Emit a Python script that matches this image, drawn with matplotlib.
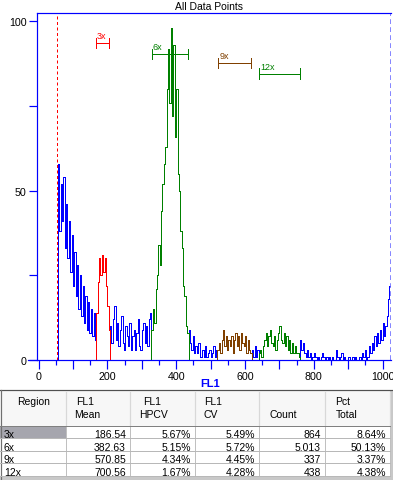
import matplotlib
matplotlib.use("Agg")
import matplotlib.pyplot as plt
import numpy as np

plt.rcParams['font.family'] = ['Liberation Sans', 'DejaVu Sans']

# ---------------- data (4-channel bins of FL1 histogram) ----------------
bin_width = 4
start_channel = 56

blue1 = [58, 38, 52, 41, 54, 33, 46, 30, 41, 26, 37, 22, 32, 19, 28, 15,
         25, 13, 22, 11, 19, 9, 17, 8, 15, 7, 14, 6]                       # 56-168
red_3x = [14, 23, 30, 25, 31, 26, 30, 22, 16, 9]                           # 168-208
blue2 = [10, 5, 12, 16, 6, 11, 4, 9, 13, 5, 3, 10, 7, 4, 11, 3, 7, 9, 3, 8,
         12, 4, 3, 9, 11, 5, 10, 4, 12, 14]                                # 208-328
green_6x = [9, 15, 11, 21, 25, 34, 28, 44, 52, 58, 63, 80, 92, 76, 98, 72,
            93, 66, 80, 55, 50, 38, 33, 22, 19, 10, 8]                     # 328-436
blue3 = [9, 5, 3, 7, 2, 4, 2, 5, 1, 1, 3, 1, 4, 1, 2, 3, 1, 2, 4, 1, 3]    # 436-520
brown_9x = [3, 5, 2, 6, 9, 4, 7, 3, 6, 4, 7, 2, 6, 8, 4, 7, 3, 8, 5, 4, 7,
            2, 6, 3, 2]                                                    # 520-620
blue4 = [3, 1, 4, 1, 3]                                                    # 620-640
green_12x = [2, 3, 1, 4, 6, 8, 4, 7, 9, 5, 4, 7, 3, 6, 8, 10, 6, 5, 8, 4, 7,
             3, 6, 2, 5, 2, 4, 2, 2, 1]                                    # 640-760
blue5 = [6, 3, 5, 2, 1, 3, 1, 2, 0, 1, 2, 1, 0, 1, 0, 1, 2, 1, 0, 1, 0, 1,
         0, 1, 0, 0, 3, 1, 0, 1, 2, 0, 1, 0, 0, 1, 0, 0, 1, 0, 1, 0, 0, 1,
         0, 2, 1, 3, 0, 1, 4, 2, 5, 3, 7, 4, 8, 5, 9, 6, 11, 7, 10, 13, 18,
         22]                                                               # 760-1024

segments = [blue1, red_3x, blue2, green_6x, blue3, brown_9x, blue4, green_12x, blue5]
counts = np.concatenate([np.array(s, dtype=float) for s in segments])
edges = start_channel + bin_width * np.arange(len(counts) + 1)

# regions: name, channel range, colour, marker position
region_names = ["3x", "6x", "9x", "12x"]
region_lo = [168, 328, 520, 640]
region_hi = [208, 436, 620, 760]
region_marker_lo = [166, 329, 522, 641]
region_marker_hi = [206, 435, 617, 760]
region_marker_y = [93.6, 90.5, 87.6, 84.6]
region_colors = ["#ff0000", "#008000", "#804000", "#008000"]

gate_left = 55
gate_right = 1023

x_ticks_major = np.arange(0, 1001, 100)
x_ticks_minor = np.arange(50, 1001, 100)
x_tick_labels = ["0", "", "200", "", "400", "", "600", "", "800", "", "1000"]
y_ticks_major = [0, 50, 100]
y_ticks_minor = [25, 75]

# table
tbl_header1 = ["Region", "FL1", "FL1", "FL1", "", "Pct"]
tbl_header2 = ["", "Mean", "HPCV", "CV", "Count", "Total"]
tbl_region = ["3x", "6x", "9x", "12x"]
tbl_mean = ["186.54", "382.63", "570.85", "700.56"]
tbl_hpcv = ["5.67%", "5.15%", "4.34%", "1.67%"]
tbl_cv = ["5.49%", "5.72%", "4.45%", "4.28%"]
tbl_count = ["864", "5.013", "337", "438"]
tbl_pct = ["8.64%", "50.13%", "3.37%", "4.38%"]

# ---------------- figure ----------------
W, H = 393, 481
fig = plt.figure(figsize=(W / 100, H / 100), dpi=100)
fig.patch.set_facecolor("white")

BLUE = "#0000ff"
PX = 0.72  # one pixel in points

# table axes (pixel coordinates)
tax = fig.add_axes([0, 0, 1, 1])
tax.set_xlim(0, W)
tax.set_ylim(H, 0)
tax.axis("off")

col_x = [0, 66, 130, 195, 259, 325, 390]
tbl_top, head_bot = 391, 426.7
row_bounds = [426.7, 439.3, 451.7, 464.3, 477]

tax.add_patch(plt.Rectangle((0, tbl_top), W, H - tbl_top, facecolor="#ffffff",
                            edgecolor="none"))
tax.add_patch(plt.Rectangle((0, tbl_top), 390, head_bot - tbl_top,
                            facecolor="#f7f7f7", edgecolor="none"))
tax.add_patch(plt.Rectangle((390, tbl_top), W - 390, H - tbl_top,
                            facecolor="#c8c8c8", edgecolor="none"))
tax.add_patch(plt.Rectangle((0, row_bounds[0]), 66, row_bounds[1] - row_bounds[0],
                            facecolor="#a6a6ae", edgecolor="none"))
tax.add_patch(plt.Rectangle((0, 477), W, 4, facecolor="#c8c8c8", edgecolor="none"))
# borders
tax.plot([0, W], [tbl_top, tbl_top], color="#505050", lw=1.2 * PX)
tax.plot([0.5, 0.5], [tbl_top, H], color="#707070", lw=1.2 * PX)
for x in col_x[1:]:
    tax.plot([x, x], [tbl_top + 2, head_bot], color="#d8d8d8", lw=1.2 * PX)
    tax.plot([x, x], [head_bot, 477], color="#c0c0c0", lw=PX)
for y in row_bounds:
    tax.plot([0, 390], [y, y], color="#b8b8b8", lw=PX)
tax.plot([0, 390], [head_bot, head_bot], color="#808080", lw=PX)

hdr_x1 = [17, 76, 143, 204, 269, 335]
hdr_x2 = [17, 74, 139, 204, 269, 336]
for i in range(6):
    tax.text(hdr_x1[i], 405.5, tbl_header1[i], fontsize=7.5, ha="left",
             va="baseline", color="black")
    tax.text(hdr_x2[i], 418.5, tbl_header2[i], fontsize=7.5, ha="left",
             va="baseline", color="black")

cols = [tbl_mean, tbl_hpcv, tbl_cv, tbl_count, tbl_pct]
for r in range(4):
    yb = row_bounds[r + 1] - 0.8
    tax.text(4, yb, tbl_region[r], fontsize=7.5, ha="left", va="baseline")
    for c, vals in enumerate(cols):
        tax.text(col_x[c + 2] - 4, yb, vals[r], fontsize=7.5, ha="right",
                 va="baseline")

# main axes
ax = fig.add_axes([36.5 / W, 1 - 361 / H, (390.5 - 36.5) / W, (361 - 14.3) / H])
ax.set_xlim(-6, 1023)
ax.set_ylim(0, 102.4)
ax.patch.set_facecolor("white")

LW = PX
ax.stairs(counts, edges, baseline=0, color=BLUE, lw=LW, antialiased=False)
for name, lo, hi, col in zip(region_names, region_lo, region_hi, region_colors):
    m = (edges[:-1] >= lo) & (edges[:-1] < hi)
    e = np.append(edges[:-1][m], edges[:-1][m][-1] + bin_width)
    ax.stairs(counts[m], e, baseline=0, color=col, lw=LW, antialiased=False)

# region markers
for name, lo, hi, yv, col in zip(region_names, region_marker_lo, region_marker_hi,
                                 region_marker_y, region_colors):
    ax.plot([lo, hi], [yv, yv], color=col, lw=LW, antialiased=False)
    ax.plot([lo, lo], [yv - 1.5, yv + 1.5], color=col, lw=LW, antialiased=False)
    ax.plot([hi, hi], [yv - 1.5, yv + 1.5], color=col, lw=LW, antialiased=False)
    ax.text(lo + 3, yv + 0.9, name, color=col, fontsize=6.5, ha="left",
            va="bottom")

# gates
ax.axvline(gate_left, color="#ff0000", lw=LW, dashes=(3, 2.5))
ax.axvline(gate_right, color="#6a6aff", lw=PX * 1.6, dashes=(3, 2))

# spines
for s in ["left", "top", "bottom"]:
    ax.spines[s].set_color(BLUE)
    ax.spines[s].set_linewidth(PX * 1.2)
ax.spines["right"].set_visible(False)
ax.plot([-30, -6], [0, 0], color=BLUE, lw=PX * 1.2, clip_on=False)

ax.set_xticks(x_ticks_major)
ax.set_xticklabels(x_tick_labels)
ax.set_xticks(x_ticks_minor, minor=True)
ax.set_yticks(y_ticks_major)
ax.set_yticklabels([str(v) for v in y_ticks_major])
ax.set_yticks(y_ticks_minor, minor=True)
ax.tick_params(axis="x", which="major", length=6.5, width=PX * 1.2, color=BLUE,
               labelsize=7.7, pad=1.5, labelcolor="black")
ax.tick_params(axis="x", which="minor", length=3.5, width=PX * 1.2, color=BLUE)
ax.tick_params(axis="y", which="both", length=5.8, width=PX * 1.2, color=BLUE,
               labelsize=7.7, pad=1.5, labelcolor="black")

fig.text(209 / W, 1 - 6.5 / H, "All Data Points", fontsize=7.5, ha="center",
         va="center", color="black")
fig.text(210 / W, 1 - 384 / H, "FL1", fontsize=8, fontweight="bold", ha="center",
         va="center", color=BLUE)

fig.savefig("out.png", dpi=100)
